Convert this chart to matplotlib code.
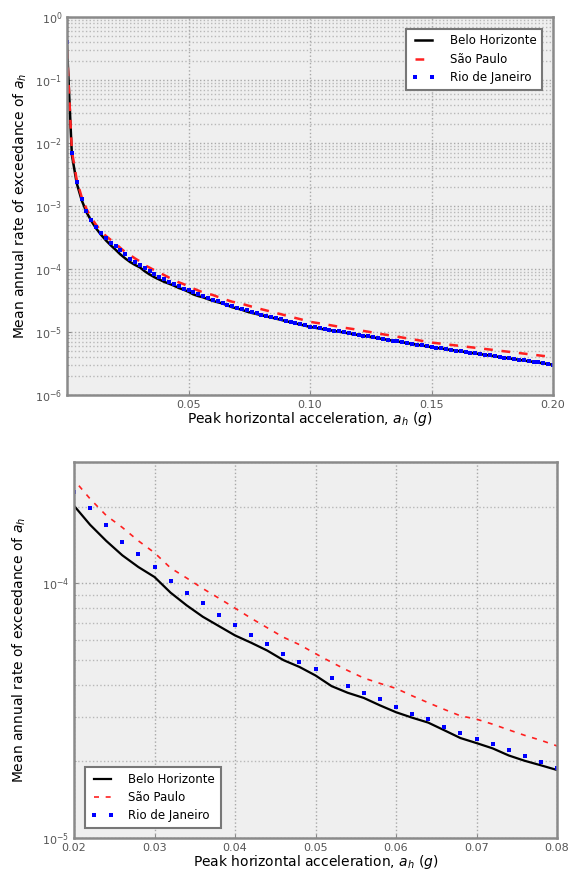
import numpy as np
import matplotlib
matplotlib.use("Agg")
import matplotlib.pyplot as plt
from matplotlib.ticker import LogLocator, FixedLocator, NullFormatter, FormatStrFormatter

# Peak horizontal acceleration grid (g)
ACC = np.linspace(0.0, 0.2, 101)

# Mean annual rate of exceedance
BELO_HORIZONTE = [
    3.5e-1, 6.5e-3, 2.3e-3, 1.25e-3, 8.0e-4, 5.8e-4, 4.4e-4, 3.5e-4, 2.85e-4, 2.38e-4,
    2.02e-4, 1.70e-4, 1.47e-4, 1.29e-4, 1.16e-4, 1.06e-4, 9.2e-5, 8.2e-5, 7.4e-5, 6.8e-5,
    6.25e-5, 5.85e-5, 5.45e-5, 5.0e-5, 4.7e-5, 4.35e-5, 3.95e-5, 3.72e-5, 3.55e-5, 3.32e-5,
    3.12e-5, 2.97e-5, 2.84e-5, 2.65e-5, 2.47e-5, 2.36e-5, 2.25e-5, 2.11e-5, 2.01e-5, 1.93e-5,
    1.85e-5, 1.77e-5, 1.70e-5, 1.63e-5, 1.56e-5, 1.49e-5, 1.43e-5, 1.37e-5, 1.31e-5, 1.26e-5,
    1.20e-5, 1.17e-5, 1.13e-5, 1.10e-5, 1.07e-5, 1.04e-5, 1.01e-5, 9.8e-6, 9.5e-6, 9.2e-6,
    8.95e-6, 8.7e-6, 8.45e-6, 8.2e-6, 7.96e-6, 7.73e-6, 7.5e-6, 7.28e-6, 7.08e-6, 6.87e-6,
    6.67e-6, 6.47e-6, 6.28e-6, 6.1e-6, 5.93e-6, 5.75e-6, 5.61e-6, 5.47e-6, 5.32e-6, 5.19e-6,
    5.06e-6, 4.93e-6, 4.81e-6, 4.68e-6, 4.56e-6, 4.45e-6, 4.34e-6, 4.23e-6, 4.11e-6, 4.01e-6,
    3.91e-6, 3.81e-6, 3.72e-6, 3.61e-6, 3.52e-6, 3.44e-6, 3.35e-6, 3.27e-6, 3.18e-6, 3.10e-6,
    3.02e-6,
]
SAO_PAULO = [
    3.0e-1, 7.5e-3, 2.6e-3, 1.4e-3, 9.0e-4, 6.5e-4, 5.0e-4, 4.0e-4, 3.35e-4, 2.9e-4,
    2.55e-4, 2.15e-4, 1.85e-4, 1.66e-4, 1.47e-4, 1.32e-4, 1.15e-4, 1.05e-4, 9.55e-5, 8.75e-5,
    8.0e-5, 7.3e-5, 6.7e-5, 6.15e-5, 5.75e-5, 5.3e-5, 4.9e-5, 4.55e-5, 4.25e-5, 4.05e-5,
    3.87e-5, 3.62e-5, 3.4e-5, 3.2e-5, 3.02e-5, 2.93e-5, 2.8e-5, 2.66e-5, 2.53e-5, 2.42e-5,
    2.3e-5, 2.2e-5, 2.1e-5, 2.0e-5, 1.92e-5, 1.83e-5, 1.75e-5, 1.67e-5, 1.6e-5, 1.52e-5,
    1.45e-5, 1.41e-5, 1.37e-5, 1.33e-5, 1.29e-5, 1.25e-5, 1.21e-5, 1.17e-5, 1.14e-5, 1.11e-5,
    1.07e-5, 1.04e-5, 1.01e-5, 9.8e-6, 9.5e-6, 9.2e-6, 8.95e-6, 8.68e-6, 8.42e-6, 8.17e-6,
    7.93e-6, 7.7e-6, 7.47e-6, 7.24e-6, 7.03e-6, 6.8e-6, 6.66e-6, 6.52e-6, 6.38e-6, 6.25e-6,
    6.12e-6, 5.99e-6, 5.86e-6, 5.74e-6, 5.62e-6, 5.5e-6, 5.38e-6, 5.27e-6, 5.16e-6, 5.05e-6,
    4.94e-6, 4.84e-6, 4.74e-6, 4.64e-6, 4.54e-6, 4.44e-6, 4.35e-6, 4.26e-6, 4.17e-6, 4.08e-6,
    4.0e-6,
]
RIO_DE_JANEIRO = [
    4.0e-1, 6.9e-3, 2.4e-3, 1.3e-3, 8.3e-4, 6.0e-4, 4.6e-4, 3.7e-4, 3.05e-4, 2.6e-4,
    2.28e-4, 1.97e-4, 1.70e-4, 1.45e-4, 1.30e-4, 1.16e-4, 1.02e-4, 9.14e-5, 8.35e-5, 7.5e-5,
    6.84e-5, 6.25e-5, 5.8e-5, 5.3e-5, 4.9e-5, 4.6e-5, 4.27e-5, 3.94e-5, 3.7e-5, 3.51e-5,
    3.27e-5, 3.06e-5, 2.93e-5, 2.72e-5, 2.58e-5, 2.44e-5, 2.34e-5, 2.21e-5, 2.10e-5, 1.99e-5,
    1.88e-5, 1.79e-5, 1.72e-5, 1.65e-5, 1.58e-5, 1.51e-5, 1.45e-5, 1.39e-5, 1.33e-5, 1.27e-5,
    1.21e-5, 1.18e-5, 1.14e-5, 1.11e-5, 1.08e-5, 1.05e-5, 1.02e-5, 9.9e-6, 9.6e-6, 9.3e-6,
    9.0e-6, 8.75e-6, 8.5e-6, 8.25e-6, 8.0e-6, 7.77e-6, 7.54e-6, 7.32e-6, 7.1e-6, 6.9e-6,
    6.7e-6, 6.5e-6, 6.31e-6, 6.13e-6, 5.95e-6, 5.78e-6, 5.63e-6, 5.49e-6, 5.35e-6, 5.21e-6,
    5.08e-6, 4.95e-6, 4.83e-6, 4.7e-6, 4.58e-6, 4.47e-6, 4.36e-6, 4.25e-6, 4.13e-6, 4.03e-6,
    3.93e-6, 3.83e-6, 3.73e-6, 3.63e-6, 3.54e-6, 3.45e-6, 3.37e-6, 3.28e-6, 3.2e-6, 3.12e-6,
    3.04e-6,
]

LABELS = ["Belo Horizonte", "São Paulo", "Rio de Janeiro"]
TOP_XTICKS = [0.05, 0.10, 0.15, 0.20]
BOTTOM_XTICKS = [0.02, 0.03, 0.04, 0.05, 0.06, 0.07, 0.08]

plt.rcParams['font.family'] = ['DejaVu Sans']
plt.rcParams['mathtext.fontset'] = 'dejavusans'

fig = plt.figure(figsize=(5.71, 8.73), dpi=100)
ax1 = fig.add_axes([67/571, 1 - 395/873, 486/571, 378/873])
ax2 = fig.add_axes([74/571, 1 - 838/873, 483/571, 376/873])

SPINE = '#8a8a8a'
FACE = '#efefef'
TICKC = '#555555'


def style(ax):
    ax.set_facecolor(FACE)
    for s in ax.spines.values():
        s.set_color(SPINE)
        s.set_linewidth(1.8)
    ax.set_yscale('log')
    ax.yaxis.set_minor_locator(LogLocator(base=10, subs=np.arange(2, 10)))
    ax.yaxis.set_minor_formatter(NullFormatter())
    ax.grid(True, which='major', axis='both', linestyle=':', color='#a8a8a8', linewidth=1.0)
    ax.grid(True, which='minor', axis='y', linestyle=':', color='#b8b8b8', linewidth=1.0)
    ax.set_axisbelow(True)
    ax.tick_params(which='both', direction='in', colors=SPINE, labelcolor=TICKC,
                   labelsize=8, length=3)
    ax.tick_params(which='minor', length=1.5)


# ---- top panel ----
style(ax1)
ax1.plot(ACC, BELO_HORIZONTE, color='black', lw=1.8, label=LABELS[0])
ax1.plot(ACC, SAO_PAULO, color='#ff2020', lw=1.8, dashes=(3.5, 3.5), label=LABELS[1])
ax1.plot(ACC, RIO_DE_JANEIRO, linestyle='none', marker='s', markersize=2.6,
         markeredgewidth=0, color='#0000ff', label=LABELS[2])
ax1.set_xlim(0.0, 0.2)
ax1.set_ylim(1e-6, 1e0)
ax1.xaxis.set_major_locator(FixedLocator(TOP_XTICKS))
ax1.xaxis.set_major_formatter(FormatStrFormatter('%.2f'))
ax1.set_xlabel(r'Peak horizontal acceleration, $a_h$ ($g$)', fontsize=10, labelpad=0)
ax1.set_ylabel(r'Mean annual rate of exceedance of $a_h$', fontsize=10, labelpad=4)
leg1 = ax1.legend(loc='upper right', fontsize=8.5, numpoints=2, handlelength=2.0,
                  fancybox=False, framealpha=1.0, edgecolor='#777777',
                  borderpad=0.5, labelspacing=0.45, handletextpad=1.2,
                  bbox_to_anchor=(0.99, 0.985))
leg1.get_frame().set_linewidth(1.5)

# ---- bottom panel ----
style(ax2)
ax2.plot(ACC, BELO_HORIZONTE, color='black', lw=1.6, label=LABELS[0])
ax2.plot(ACC, SAO_PAULO, color='#ff2020', lw=1.2, dashes=(3, 4), label=LABELS[1])
ax2.plot(ACC, RIO_DE_JANEIRO, linestyle='none', marker='s', markersize=3.0,
         markeredgewidth=0, color='#0000ff', label=LABELS[2])
ax2.set_xlim(0.02, 0.08)
ax2.set_ylim(1e-5, 3e-4)
ax2.xaxis.set_major_locator(FixedLocator(BOTTOM_XTICKS))
ax2.xaxis.set_major_formatter(FormatStrFormatter('%.2f'))
ax2.set_xlabel(r'Peak horizontal acceleration, $a_h$ ($g$)', fontsize=10, labelpad=0)
ax2.set_ylabel(r'Mean annual rate of exceedance of $a_h$', fontsize=10, labelpad=10)
leg2 = ax2.legend(loc='lower left', fontsize=8.5, numpoints=2, handlelength=2.0,
                  fancybox=False, framealpha=1.0, edgecolor='#777777',
                  borderpad=0.5, labelspacing=0.45, handletextpad=1.2,
                  bbox_to_anchor=(0.01, 0.01))
leg2.get_frame().set_linewidth(1.5)

fig.savefig('out.png', dpi=100)
